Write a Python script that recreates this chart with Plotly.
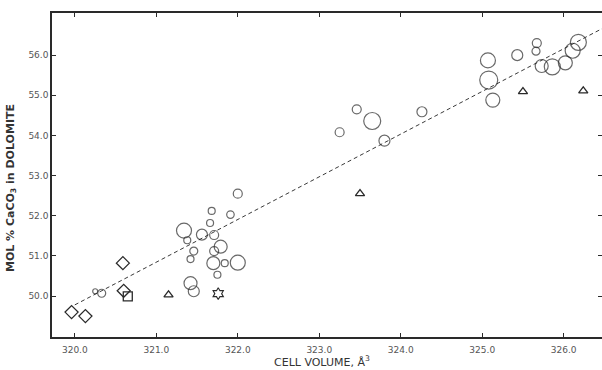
import plotly.graph_objects as go

# ---- data ----
circle_x = [320.25, 320.33, 321.34, 321.38, 321.56, 321.71, 321.79, 321.71, 321.46, 321.42,
            321.70, 321.84, 322.00, 321.75, 321.42, 321.46, 321.68, 321.91, 321.66, 322.00,
            323.46, 323.65, 323.25, 323.80, 324.26, 325.07, 325.08, 325.13, 325.43, 325.67,
            325.66, 325.73, 325.86, 326.02, 326.11, 326.18]
circle_y = [50.12, 50.07, 51.63, 51.39, 51.53, 51.52, 51.23, 51.12, 51.12, 50.92,
            50.82, 50.82, 50.83, 50.53, 50.32, 50.12, 52.12, 52.03, 51.82, 52.55,
            54.65, 54.36, 54.08, 53.87, 54.59, 55.87, 55.38, 54.88, 56.00, 56.30,
            56.10, 55.73, 55.71, 55.81, 56.11, 56.32]
# relative symbol size category of each circle
circle_size = [5, 8, 15, 7, 11, 9, 13, 9, 8, 7,
               13, 7, 15, 7, 13, 11, 7, 7.5, 7, 9,
               9, 17, 9, 11, 10, 15, 18, 14, 11, 9,
               8, 13, 16, 14, 15, 16]

diamond_x = [320.59, 320.60, 319.96, 320.13]
diamond_y = [50.82, 50.13, 49.60, 49.50]

square_x = [320.65]
square_y = [49.99]

triangle_x = [321.15, 323.50, 325.50, 326.24]
triangle_y = [50.03, 52.55, 55.09, 55.11]

star_x = [321.76]
star_y = [50.06]

fit_x = [320.0, 326.47]
fit_y = [49.78, 56.66]

x_ticks = [320.0, 321.0, 322.0, 323.0, 324.0, 325.0, 326.0]
y_ticks = [50.0, 51.0, 52.0, 53.0, 54.0, 55.0, 56.0]

INK = "#2a2a2a"

fig = go.Figure()
fig.add_trace(go.Scatter(x=fit_x, y=fit_y, mode="lines",
                         line=dict(color="#3a3a3a", width=1, dash="4px,3px"),
                         hoverinfo="skip"))
fig.add_trace(go.Scatter(x=circle_x, y=circle_y, mode="markers",
                         marker=dict(symbol="circle-open", size=circle_size,
                                     color=INK, line=dict(width=1.2, color=INK))))
fig.add_trace(go.Scatter(x=diamond_x, y=diamond_y, mode="markers",
                         marker=dict(symbol="diamond-open", size=10,
                                     color=INK, line=dict(width=1.3, color=INK))))
fig.add_trace(go.Scatter(x=square_x, y=square_y, mode="markers",
                         marker=dict(symbol="square-open", size=9,
                                     color=INK, line=dict(width=1.3, color=INK))))
fig.add_trace(go.Scatter(x=triangle_x, y=triangle_y, mode="markers",
                         marker=dict(symbol="triangle-up-open", size=8,
                                     color=INK, line=dict(width=1.3, color=INK))))
fig.add_trace(go.Scatter(x=star_x, y=star_y, mode="markers",
                         marker=dict(symbol="hexagram-open", size=9,
                                     color=INK, line=dict(width=1.1, color=INK))))

axis_common = dict(showgrid=False, zeroline=False, showline=True, linecolor=INK,
                   linewidth=1.5, mirror="ticks", ticks="inside", ticklen=4,
                   tickcolor=INK, tickwidth=1, automargin=False,
                   tickfont=dict(family="DejaVu Sans", size=9, color="#555555"))

fig.update_layout(
    width=602, height=370,
    margin=dict(l=52, r=0, t=13, b=33),
    paper_bgcolor="white", plot_bgcolor="white",
    showlegend=False,
    xaxis=dict(range=[319.72, 326.47], tickvals=x_ticks, ticklabelstandoff=3,
               ticktext=[f"{v:.1f}" for v in x_ticks], **axis_common),
    yaxis=dict(range=[48.98, 57.05], tickvals=y_ticks,
               ticktext=[f"{v:.1f}" for v in y_ticks], **axis_common),
    annotations=[
        dict(text="CELL VOLUME, Å<sup>3</sup>", xref="paper", yref="paper",
             x=0.49, y=-0.076, xanchor="center", yanchor="middle", showarrow=False,
             font=dict(family="DejaVu Sans", size=11, color="#333333")),
        dict(text="<b>MOL % CaCO<sub>3</sub> in DOLOMITE</b>", xref="paper", yref="paper",
             x=-0.058, y=0.46, xanchor="right", yanchor="middle", textangle=-90,
             showarrow=False,
             font=dict(family="DejaVu Sans", size=11, color="#333333")),
    ],
)

fig.write_html("out.html", config={"displayModeBar": False},
               post_script="document.body.style.margin='0';document.body.style.overflow='hidden';")
